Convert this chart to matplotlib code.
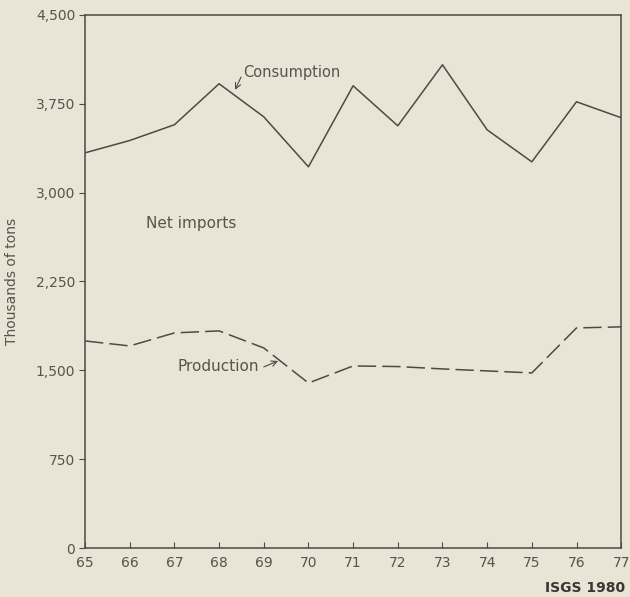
import matplotlib
matplotlib.use("Agg")
import matplotlib.pyplot as plt
from matplotlib.ticker import FuncFormatter

years = [65, 66, 67, 68, 69, 70, 71, 72, 73, 74, 75, 76, 77]
consumption = [3336, 3440, 3573, 3919, 3640, 3218, 3902, 3564, 4079, 3530, 3260, 3767, 3632]
production = [1748, 1706, 1816, 1833, 1689, 1393, 1537, 1532, 1512, 1495, 1478, 1858, 1867]
y_ticks = [0, 750, 1500, 2250, 3000, 3750, 4500]

bg = "#e9e4d5"
ink = "#4d4a45"
txt = "#57534d"

plt.rcParams['font.family'] = ['DejaVu Sans']
fig = plt.figure(figsize=(6.3, 5.97), dpi=100, facecolor=bg)
ax = fig.add_axes([0.135, 0.082, 0.851, 0.893], facecolor=bg)

ax.plot(years, consumption, color=ink, lw=1.1)
ax.plot(years, production, color=ink, lw=1.1, dashes=(12, 4))

ax.set_xlim(65, 77)
ax.set_ylim(0, 4500)
ax.set_xticks(years)
ax.set_yticks(y_ticks)
ax.yaxis.set_major_formatter(FuncFormatter(lambda v, p: f"{int(v):,}"))
ax.tick_params(axis='y', direction='out', length=4, color=ink, labelcolor=txt, labelsize=10, pad=3)
ax.tick_params(axis='x', direction='in', length=4, color=ink, labelcolor=txt, labelsize=10, pad=6)
for s in ax.spines.values():
    s.set_color(ink)
    s.set_linewidth(1.1)

ax.set_ylabel("Thousands of tons", color=txt, fontsize=10, labelpad=12)

ax.text(68.54, 4012, "Consumption", color=txt, fontsize=10.5, ha='left', va='center')
ax.annotate("", xy=(68.36, 3868), xytext=(68.49, 3975),
            arrowprops=dict(arrowstyle='->', color=ink, lw=0.8, shrinkA=0, shrinkB=0))
ax.text(66.37, 2736, "Net imports", color=txt, fontsize=11, ha='left', va='center')
ax.text(67.08, 1529, "Production", color=txt, fontsize=11, ha='left', va='center')
ax.annotate("", xy=(69.32, 1579), xytext=(69.0, 1529),
            arrowprops=dict(arrowstyle='->', color=ink, lw=0.8, shrinkA=0, shrinkB=0))

fig.text(0.992, 0.015, "ISGS 1980", color="#3a3733", fontsize=10, fontweight='bold',
         ha='right', va='center')

fig.savefig("out.png", dpi=100, facecolor=bg)
